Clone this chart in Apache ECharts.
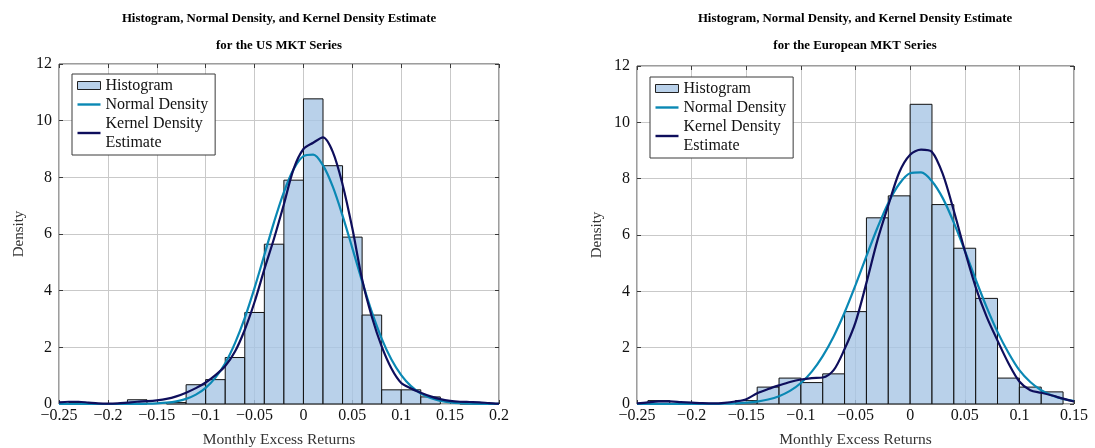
<!DOCTYPE html>
<html>
<head>
<meta charset="utf-8">
<script src="https://cdn.jsdelivr.net/npm/echarts@6/dist/echarts.min.js"></script>
<style>
html, body { margin: 0; padding: 0; background: #fff; }
#chart { width: 1095px; height: 448px; }
</style>
</head>
<body>
<div id="chart"></div>
<script>
// bin width of both histograms
const BIN_W = 0.02;

// US MKT: histogram bins (left edge) and densities
const usBinStart = [-0.24, -0.18, -0.14, -0.12, -0.10, -0.08, -0.06, -0.04, -0.02, 0.00, 0.02, 0.04, 0.06, 0.08, 0.10, 0.12, 0.16];
const usHist = [0.05, 0.15, 0.05, 0.68, 0.86, 1.64, 3.23, 5.64, 7.90, 10.77, 8.41, 5.89, 3.14, 0.50, 0.50, 0.25, 0.05];

// US MKT: curves
const usX = [-0.25, -0.24, -0.23, -0.22, -0.21, -0.20, -0.19, -0.18, -0.17, -0.16, -0.15, -0.14, -0.13, -0.12, -0.11, -0.10, -0.09, -0.08, -0.07, -0.06, -0.05, -0.04, -0.03, -0.02, -0.01, 0.00, 0.01, 0.02, 0.03, 0.04, 0.05, 0.06, 0.07, 0.08, 0.09, 0.10, 0.11, 0.12, 0.13, 0.14, 0.15, 0.16, 0.17, 0.18, 0.19, 0.20];
const usNormal = [0, 0, 0, 0, 0, 0, 0, 0.002, 0.005, 0.011, 0.023, 0.048, 0.095, 0.18, 0.33, 0.57, 0.93, 1.44, 2.15, 3.04, 4.10, 5.26, 6.43, 7.48, 8.29, 8.75, 8.80, 8.42, 7.67, 6.65, 5.50, 4.33, 3.24, 2.31, 1.57, 1.02, 0.63, 0.37, 0.21, 0.11, 0.055, 0.027, 0.012, 0.005, 0.002, 0.001];
const usKde = [0.06, 0.08, 0.08, 0.05, 0.02, 0.01, 0.02, 0.05, 0.08, 0.10, 0.13, 0.18, 0.27, 0.40, 0.56, 0.76, 1.02, 1.34, 1.85, 2.62, 3.60, 4.75, 5.85, 7.05, 8.30, 9.00, 9.22, 9.41, 8.90, 7.75, 6.20, 4.40, 3.07, 2.03, 1.25, 0.74, 0.55, 0.40, 0.27, 0.17, 0.11, 0.08, 0.07, 0.06, 0.03, 0.01];

// European MKT
const euBinStart = [-0.24, -0.16, -0.14, -0.12, -0.10, -0.08, -0.06, -0.04, -0.02, 0.00, 0.02, 0.04, 0.06, 0.08, 0.10, 0.12];
const euHist = [0.12, 0.12, 0.60, 0.92, 0.76, 1.07, 3.28, 6.61, 7.39, 10.64, 7.08, 5.53, 3.75, 0.92, 0.60, 0.43];

const euX = [-0.25, -0.24, -0.23, -0.22, -0.21, -0.20, -0.19, -0.18, -0.17, -0.16, -0.15, -0.14, -0.13, -0.12, -0.11, -0.10, -0.09, -0.08, -0.07, -0.06, -0.05, -0.04, -0.03, -0.02, -0.01, 0.00, 0.01, 0.02, 0.03, 0.04, 0.05, 0.06, 0.07, 0.08, 0.09, 0.10, 0.11, 0.12, 0.13, 0.14, 0.15];
const euNormal = [0, 0, 0, 0, 0.001, 0.001, 0.002, 0.005, 0.011, 0.023, 0.045, 0.086, 0.158, 0.277, 0.464, 0.746, 1.15, 1.70, 2.40, 3.25, 4.22, 5.25, 6.25, 7.14, 7.81, 8.19, 8.22, 7.91, 7.30, 6.44, 5.45, 4.42, 3.44, 2.56, 1.82, 1.20, 0.78, 0.49, 0.30, 0.18, 0.10];
const euKde = [0.02, 0.06, 0.09, 0.09, 0.07, 0.05, 0.03, 0.02, 0.04, 0.09, 0.17, 0.38, 0.53, 0.66, 0.78, 0.87, 0.92, 0.94, 1.20, 1.95, 2.90, 4.30, 5.80, 7.05, 8.22, 8.85, 9.03, 8.95, 8.15, 6.86, 5.45, 4.15, 3.10, 2.25, 1.45, 0.80, 0.49, 0.40, 0.30, 0.19, 0.09];

const SERIF = '"Liberation Serif", "DejaVu Serif", serif';
const HIST_FILL = 'rgba(168,197,229,0.8)';
const NORMAL_COLOR = '#0a88b4';
const KDE_COLOR = '#0e0e5c';
const FRAME = '#3a3a3a';
// legend icon for the curves: a thick line centred in the icon box
const LINE_ICON = 'path://M0,0L0,0M0,8L0,8M0,2.8H23V5.2H0Z';

function pairs(xs, ys) {
  return xs.map((x, i) => [x, ys[i]]);
}

function fmtX(v) {
  if (Math.abs(v) < 1e-9) return '0';
  return String(+v.toFixed(2)).replace('-', '\u2212');
}

function histRender(params, api) {
  const x0 = api.value(0);
  const h = api.value(1);
  const p0 = api.coord([x0, h]);
  const p1 = api.coord([x0 + BIN_W, 0]);
  return {
    type: 'rect',
    shape: { x: p0[0], y: p0[1], width: p1[0] - p0[0], height: p1[1] - p0[1] },
    style: { fill: HIST_FILL, stroke: '#111', lineWidth: 1 }
  };
}

const grids = [
  { left: 59, right: 596, top: 64, bottom: 44 },
  { left: 637, right: 21, top: 66, bottom: 44 }
];

const tickStyle = { show: true, inside: true, length: 4, lineStyle: { color: FRAME } };

function xAxes(gi, min, max) {
  return [
    {
      type: 'value', gridIndex: gi, min: min, max: max, interval: 0.05,
      name: 'Monthly Excess Returns', nameLocation: 'middle', nameGap: 28,
      nameTextStyle: { fontFamily: SERIF, fontSize: 15.5, color: '#333' },
      axisLine: { show: false, onZero: false },
      axisTick: tickStyle,
      axisLabel: { formatter: fmtX, fontFamily: SERIF, fontSize: 16, color: '#111', margin: 4 },
      splitLine: { show: true, lineStyle: { color: '#c9c9c9', width: 1 } }
    },
    {
      type: 'value', gridIndex: gi, min: min, max: max, interval: 0.05, position: 'top',
      axisLine: { show: false, onZero: false },
      axisTick: tickStyle,
      axisLabel: { show: false },
      splitLine: { show: false }
    }
  ];
}

function yAxes(gi) {
  return [
    {
      type: 'value', gridIndex: gi, min: 0, max: 12, interval: 2,
      name: 'Density', nameLocation: 'middle', nameGap: 32,
      nameTextStyle: { fontFamily: SERIF, fontSize: 15, color: '#333' },
      axisLine: { show: false, onZero: false },
      axisTick: tickStyle,
      axisLabel: { fontFamily: SERIF, fontSize: 16, color: '#111', margin: 7 },
      splitLine: { show: true, lineStyle: { color: '#c9c9c9', width: 1 } }
    },
    {
      type: 'value', gridIndex: gi, min: 0, max: 12, interval: 2, position: 'right',
      axisLine: { show: false, onZero: false },
      axisTick: tickStyle,
      axisLabel: { show: false },
      splitLine: { show: false }
    }
  ];
}

function seriesFor(xi, yi, binStart, hist, xs, normal, kde) {
  return [
    {
      name: 'Histogram', type: 'custom', xAxisIndex: xi, yAxisIndex: yi,
      renderItem: histRender, encode: { x: 0, y: 1 },
      itemStyle: { color: HIST_FILL, borderColor: '#111', borderWidth: 1 },
      data: pairs(binStart, hist), z: 2
    },
    {
      name: 'Normal Density', type: 'line', xAxisIndex: xi, yAxisIndex: yi,
      data: pairs(xs, normal), smooth: 0.3, symbol: 'none',
      lineStyle: { color: NORMAL_COLOR, width: 2.2 }, itemStyle: { color: NORMAL_COLOR }, z: 3
    },
    {
      name: 'Kernel Density\nEstimate', type: 'line', xAxisIndex: xi, yAxisIndex: yi,
      data: pairs(xs, kde), smooth: 0.3, symbol: 'none',
      lineStyle: { color: KDE_COLOR, width: 2.2 }, itemStyle: { color: KDE_COLOR }, z: 4
    }
  ];
}

function legendAt(left, top) {
  return {
    left: left, top: top, orient: 'vertical',
    backgroundColor: '#fff', borderColor: FRAME, borderWidth: 1,
    padding: [2, 7, 3, 5], itemGap: 0, itemWidth: 23, itemHeight: 8,
    selectedMode: false,
    textStyle: { fontFamily: SERIF, fontSize: 16, color: '#111', lineHeight: 19 },
    data: [
      { name: 'Histogram', icon: 'rect', itemStyle: { color: HIST_FILL, borderColor: '#222', borderWidth: 1 } },
      { name: 'Normal Density', icon: LINE_ICON, itemStyle: { color: NORMAL_COLOR, borderWidth: 0 } },
      { name: 'Kernel Density\nEstimate', icon: LINE_ICON, itemStyle: { color: KDE_COLOR, borderWidth: 0 } }
    ]
  };
}

const titleStyle = { fontFamily: SERIF, fontSize: 12.8, fontWeight: 'bold', color: '#000', lineHeight: 27, align: 'center' };

const option = {
  animation: false,
  title: [
    { text: 'Histogram, Normal Density, and Kernel Density Estimate\nfor the US MKT Series', left: 279, top: 5, textAlign: 'center', padding: 0, textStyle: titleStyle },
    { text: 'Histogram, Normal Density, and Kernel Density Estimate\nfor the European MKT Series', left: 855, top: 5, textAlign: 'center', padding: 0, textStyle: titleStyle }
  ],
  legend: [legendAt(72, 74), legendAt(650, 77)],
  grid: grids.map(g => Object.assign({
    show: true, borderColor: FRAME, borderWidth: 1, backgroundColor: 'transparent',
    containLabel: false, outerBoundsMode: 'none'
  }, g)),
  xAxis: xAxes(0, -0.25, 0.2).concat(xAxes(1, -0.25, 0.15)),
  yAxis: yAxes(0).concat(yAxes(1)),
  series: seriesFor(0, 0, usBinStart, usHist, usX, usNormal, usKde)
    .concat(seriesFor(2, 2, euBinStart, euHist, euX, euNormal, euKde))
};

const chart = echarts.init(document.getElementById('chart'));
chart.setOption(option);
</script>
</body>
</html>
